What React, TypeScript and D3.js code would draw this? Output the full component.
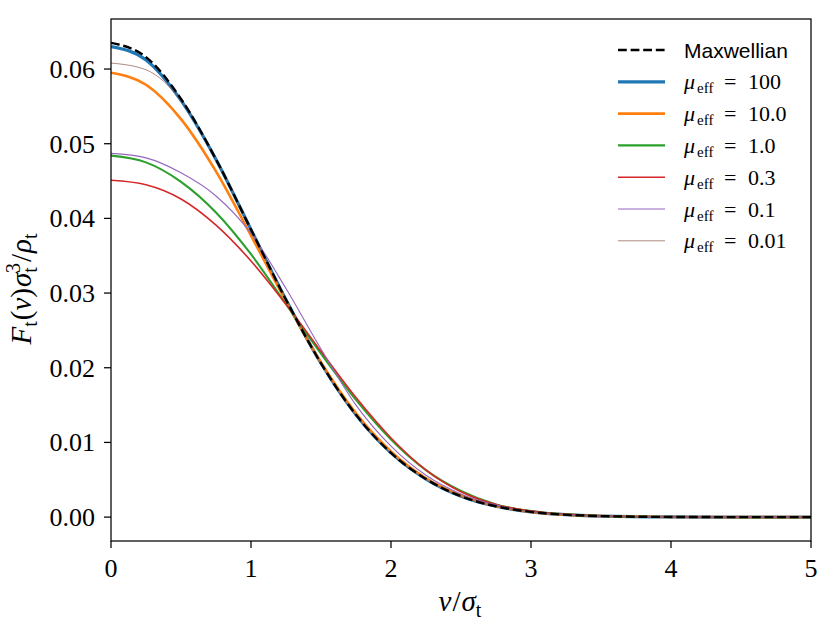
import React from 'react';
import * as d3 from 'd3';

// speeds in units of sigma_t
const vGrid = [0, 0.25, 0.5, 0.75, 1, 1.25, 1.5, 1.75, 2, 2.25, 2.5, 2.75, 3, 3.5, 4, 4.5, 5];

const maxwellian = [0.0635, 0.0616, 0.056, 0.0479, 0.0385, 0.0291, 0.0206, 0.0137, 0.0086, 0.0051, 0.0028, 0.00145, 0.0007, 0.00014, 0.00002, 0, 0];
const mu100 = [0.063, 0.0612, 0.0558, 0.0479, 0.0385, 0.0291, 0.0206, 0.0137, 0.0086, 0.0051, 0.0028, 0.00145, 0.0007, 0.00014, 0.00002, 0, 0];
const mu10 = [0.0595, 0.0579, 0.0533, 0.0463, 0.0377, 0.0289, 0.0207, 0.0139, 0.0088, 0.0052, 0.0029, 0.0015, 0.0007, 0.00014, 0.00002, 0, 0];
const mu1 = [0.0484, 0.0475, 0.0449, 0.0408, 0.0352, 0.0285, 0.0219, 0.0157, 0.0104, 0.0063, 0.0035, 0.0017, 0.0008, 0.00015, 0.00002, 0, 0];
const mu03 = [0.0451, 0.0445, 0.0426, 0.0391, 0.0343, 0.0285, 0.0222, 0.016, 0.0106, 0.0063, 0.0034, 0.0017, 0.0008, 0.00015, 0.00002, 0, 0];
const mu01 = [0.0487, 0.0481, 0.0461, 0.043, 0.038, 0.0306, 0.0225, 0.015, 0.0095, 0.0056, 0.0031, 0.0016, 0.0007, 0.00014, 0.00002, 0, 0];
const mu001 = [0.0608, 0.0599, 0.0558, 0.0479, 0.0385, 0.0291, 0.0206, 0.0137, 0.0086, 0.0051, 0.0028, 0.00145, 0.0007, 0.00014, 0.00002, 0, 0];

const muLabels = ['100', '10.0', '1.0', '0.3', '0.1', '0.01'];
const muSeries = [mu100, mu10, mu1, mu03, mu01, mu001];
const colors = ['#1f77b4', '#ff7f0e', '#2ca02c', '#d62728', '#9467bd', '#8c564b'];
const widths = [3.2, 2.6, 2.1, 1.6, 1.1, 0.7];

const xTicks = [0, 1, 2, 3, 4, 5];
const yTicks = [0, 0.01, 0.02, 0.03, 0.04, 0.05, 0.06];

const W = 830;
const H = 629;
const plot = { left: 111, right: 811, top: 19, bottom: 541 };

const serif = 'Liberation Serif, DejaVu Serif, Times New Roman, Tinos, serif';
const sans = 'Liberation Sans, Arial, sans-serif';

const App: React.FC = () => {
  const x = d3.scaleLinear().domain([0, 5]).range([plot.left, plot.right]);
  const y = d3.scaleLinear().domain([-0.0032, 0.0667]).range([plot.bottom, plot.top]);

  const line = d3
    .line<number>()
    .x((_, i) => x(vGrid[i]))
    .y(d => y(d))
    .curve(d3.curveMonotoneX);

  const legendX0 = 618;
  const legendX1 = 665;
  const legendRow = (i: number) => 50 + i * 31.8;
  const serifStyle: React.CSSProperties = { fontFamily: serif };

  return (
    <svg width={W} height={H} style={{ position: 'absolute', left: 0, top: 0, background: '#fff' }}>
      <defs>
        <clipPath id="plotArea">
          <rect x={plot.left} y={plot.top} width={plot.right - plot.left} height={plot.bottom - plot.top} />
        </clipPath>
      </defs>

      <g clipPath="url(#plotArea)">
        {muSeries.map((vals, i) => (
          <path key={muLabels[i]} d={line(vals) || ''} fill="none" stroke={colors[i]} strokeWidth={widths[i]} />
        ))}
        <path d={line(maxwellian) || ''} fill="none" stroke="#000" strokeWidth={2.4} strokeDasharray="8.8,3.8" />
      </g>

      {/* frame */}
      <rect
        x={plot.left}
        y={plot.top}
        width={plot.right - plot.left}
        height={plot.bottom - plot.top}
        fill="none"
        stroke="#000"
        strokeWidth={1.25}
      />

      {/* x axis */}
      {xTicks.map(t => (
        <g key={t}>
          <line x1={x(t)} x2={x(t)} y1={plot.bottom} y2={plot.bottom + 7} stroke="#000" strokeWidth={1.25} />
          <text x={x(t)} y={577} textAnchor="middle" style={serifStyle} fontSize={26}>
            {t}
          </text>
        </g>
      ))}

      {/* y axis */}
      {yTicks.map(t => (
        <g key={t}>
          <line x1={plot.left - 7} x2={plot.left} y1={y(t)} y2={y(t)} stroke="#000" strokeWidth={1.25} />
          <text x={95} y={y(t) + 9} textAnchor="end" style={serifStyle} fontSize={26}>
            {t.toFixed(2)}
          </text>
        </g>
      ))}

      {/* x label */}
      <text x={460} y={611} textAnchor="middle" style={serifStyle} fontSize={29}>
        <tspan fontStyle="italic">v</tspan>
        <tspan dx={1}>/</tspan>
        <tspan fontStyle="italic" dx={1}>σ</tspan>
        <tspan fontSize={20} dy={6}>t</tspan>
      </text>

      {/* y label */}
      <text transform="translate(31,289) rotate(-90)" textAnchor="middle" style={serifStyle} fontSize={29}>
        <tspan fontStyle="italic">F</tspan>
        <tspan fontSize={20} dy={6}>t</tspan>
        <tspan dy={-6} dx={1}>(</tspan>
        <tspan fontStyle="italic">v</tspan>
        <tspan>)</tspan>
        <tspan fontStyle="italic" dx={1}>σ</tspan>
        <tspan fontSize={20} dy={6}>t</tspan>
        <tspan fontSize={20} dx={-6} dy={-17}>3</tspan>
        <tspan dy={11} dx={1}>/</tspan>
        <tspan fontStyle="italic" dx={1}>ρ</tspan>
        <tspan fontSize={20} dy={6}>t</tspan>
      </text>

      {/* legend */}
      <g>
        <line
          x1={legendX0}
          x2={legendX1}
          y1={legendRow(0)}
          y2={legendRow(0)}
          stroke="#000"
          strokeWidth={2.4}
          strokeDasharray="8.8,3.8"
        />
        <text x={684} y={legendRow(0) + 7.5} style={{ fontFamily: sans }} fontSize={21}>
          Maxwellian
        </text>
        {muLabels.map((lab, i) => {
          const ry = legendRow(i + 1);
          return (
            <g key={lab}>
              <line x1={legendX0} x2={legendX1} y1={ry} y2={ry} stroke={colors[i]} strokeWidth={widths[i]} />
              <text y={ry + 7.5} style={serifStyle} fontSize={22}>
                <tspan x={684} fontStyle="italic">μ</tspan>
                <tspan x={697} fontSize={15} dy={4}>eff</tspan>
                <tspan x={724} dy={-4}>=</tspan>
                <tspan x={748}>{lab}</tspan>
              </text>
            </g>
          );
        })}
      </g>
    </svg>
  );
};

export default App;
